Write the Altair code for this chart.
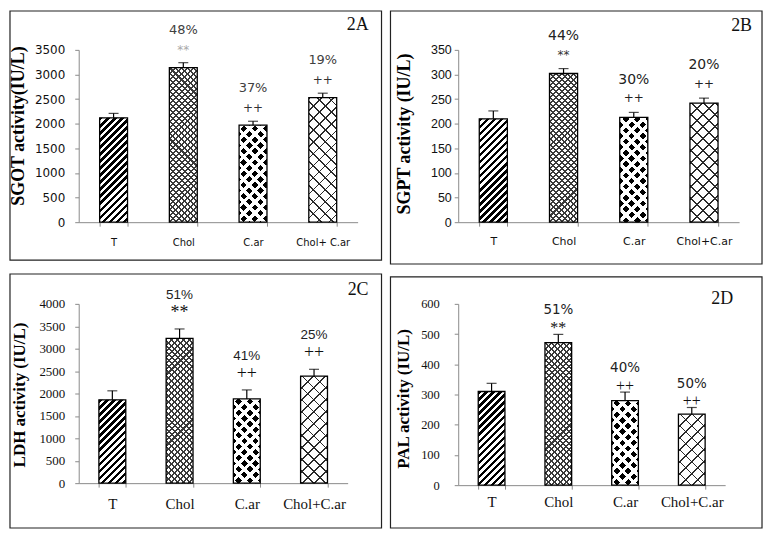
import math
import altair as alt
import pandas as pd

# ---------------- data ----------------
cats_a = ["T", "Chol", "C.ar", "Chol+ C.ar"]
cats_b = ["T", "Chol", "C.ar", "Chol+C.ar"]
cats_c = ["T", "Chol", "C.ar", "Chol+C.ar"]
cats_d = ["T", "Chol", "C.ar", "Chol+C.ar"]

sgot_mean = [2120, 3140, 1970, 2530]
sgot_err = [90, 100, 80, 90]
sgpt_mean = [210, 302, 213, 242]
sgpt_err = [16, 10, 10, 10]
ldh_mean = [1860, 3230, 1880, 2390]
ldh_err = [200, 210, 200, 150]
pal_mean = [310, 472, 280, 235]
pal_err = [27, 27, 28, 22]

pct_a = ["", "48%", "37%", "19%"]
pct_b = ["", "44%", "30%", "20%"]
pct_c = ["", "51%", "41%", "25%"]
pct_d = ["", "51%", "40%", "50%"]
sym_all = ["", "**", "++", "++"]

ticks_a = [0, 500, 1000, 1500, 2000, 2500, 3000, 3500]
ticks_b = [0, 50, 100, 150, 200, 250, 300, 350]
ticks_c = [0, 500, 1000, 1500, 2000, 2500, 3000, 3500, 4000]
ticks_d = [0, 100, 200, 300, 400, 500, 600]

TRANSP = "rgba(0,0,0,0)"


def stripe_gradient(w, h, period, frac, on, off, slope):
    """45-degree stripes as a hard-stop linear gradient (bounding-box units)."""
    r = h / w
    d = (1 + r) / (1 + r * r)
    if slope == "/":
        x1, y1, x2, y2 = 0, 0, d, r * d
    else:
        x1, y1, x2, y2 = 0, 1, d, 1 - r * d
    n = (w + h) / (math.sqrt(2) * period)
    stops = []
    k = 0
    while k / n < 1:
        a = k / n
        b = min((k + frac) / n, 1)
        c = min((k + 1) / n, 1)
        stops += [
            {"offset": round(a, 5), "color": on},
            {"offset": round(b, 5), "color": on},
            {"offset": round(b, 5), "color": off},
            {"offset": round(c, 5), "color": off},
        ]
        k += 1
    return {"gradient": "linear", "x1": x1, "y1": y1, "x2": x2, "y2": y2, "stops": stops}


# pattern recipes per category index: list of (slope, period, frac, on, off)
patterns = [
    [("/", 5.0, 0.5, "black", "white")],
    [("/", 4.2, 0.34, "#3a3a3a", "white"), ("\\", 4.2, 0.34, "#3a3a3a", TRANSP)],
    [("/", 8.0, 0.42, "white", "black"), ("\\", 8.0, 0.42, "white", TRANSP)],
    [("/", 8.5, 0.14, "#2a2a2a", "white"), ("\\", 8.5, 0.14, "#2a2a2a", TRANSP)],
]


def panel(cats, mean, err, pct, ticks, ymax, W, H, st):
    df = pd.DataFrame({"cat": cats, "mean": mean, "err": err, "pct": pct, "sym": sym_all})
    df["top"] = df["mean"] + df["err"]

    xaxis = alt.Axis(
        title=None, labelAngle=0, tickBand="extent", domainColor="#8a8a8a",
        tickColor="#8a8a8a", tickSize=4, labelPadding=st["xpad"], labelBaseline="middle",
        labelFont=st["xfont"], labelFontSize=st["xsize"], labelColor="#111",
        labelOverlap=False, labelLimit=200,
    )
    yaxis = alt.Axis(
        values=ticks, format="d", grid=False, domainColor="#8a8a8a", tickColor="#8a8a8a",
        tickSize=4, labelPadding=st["ypad"], labelFont=st["yfont"],
        labelFontSize=st["ysize"], labelColor="#111", title=st["title"],
        titleFont="Liberation Serif", titleFontWeight="bold", titleFontSize=st["tsize"],
        titleAngle=270, titleAlign="center", titleBaseline="middle",
        titleX=st["tx"], titleY=st["ty"], titleColor="black",
    )
    xs = alt.Scale(domain=cats, paddingInner=0.6, paddingOuter=0.3)
    ys = alt.Scale(domain=[0, ymax], nice=False)

    def X():
        return alt.X("cat:N", sort=cats, scale=xs, axis=xaxis)

    def Y(field="mean"):
        return alt.Y(f"{field}:Q", scale=ys, axis=yaxis)

    base = alt.Chart(df)
    layers = []
    bw = 0.1 * W
    for i, c in enumerate(cats):
        h = mean[i] / ymax * H
        for (slope, per, frac, on, off) in patterns[i]:
            g = stripe_gradient(bw, h, per, frac, on, off, slope)
            layers.append(
                base.transform_filter(alt.datum.cat == c)
                .mark_bar(fill=g, strokeWidth=0)
                .encode(x=X(), y=Y("mean"))
            )
    outline = base.mark_bar(fillOpacity=0, stroke="black", strokeWidth=1.3).encode(x=X(), y=Y("mean"))
    rule = base.mark_rule(color="black", strokeWidth=1.2).encode(x=X(), y=Y("mean"), y2="top:Q")
    cap = base.mark_tick(color="black", thickness=1.2, size=10, orient="horizontal").encode(
        x=X(), y=Y("top"))
    pct_t = base.mark_text(baseline="middle", dy=st["dpct"], font=st["pfont"],
                           fontSize=st["psize"], color=st["pcol"]).encode(
        x=X(), y=Y("top"), text="pct:N")
    star_t = base.transform_filter(alt.datum.sym == "**").mark_text(
        baseline="middle", dy=st["dsym"], font=st["sfont"], fontSize=st["ssize"],
        color=st["starcol"]).encode(x=X(), y=Y("top"), text="sym:N")
    plus_t = base.transform_filter(alt.datum.sym == "++").mark_text(
        baseline="middle", dy=st["dsym"], font=st["sfont"], fontSize=st["ssize"],
        color=st["pluscol"]).encode(x=X(), y=Y("top"), text="sym:N")
    frame = alt.Chart(pd.DataFrame({"k": [0]})).mark_rect(
        fillOpacity=0, stroke="#222", strokeWidth=1.2).encode(
        x=alt.value(st["fx"][0]), x2=alt.value(st["fx"][1]),
        y=alt.value(st["fy"][0]), y2=alt.value(st["fy"][1]))
    lab = alt.Chart(pd.DataFrame({"t": [st["label"]]})).mark_text(
        align="right", baseline="middle", font="Liberation Serif", fontSize=18, color="#111").encode(
        text="t:N", x=alt.value(st["lx"]), y=alt.value(st["ly"]))
    return alt.layer(frame, *layers, outline, rule, cap, pct_t, star_t, plus_t, lab).properties(
        width=W, height=H)


pA = panel(cats_a, sgot_mean, sgot_err, pct_a, ticks_a, 3500, 280, 173, dict(
    xpad=16, xfont="DejaVu Sans", xsize=10, ypad=10, yfont="DejaVu Sans", ysize=12,
    title="SGOT activity(IU/L)", tsize=18, tx=-60, ty=76,
    dpct=-33, psize=13, pfont="DejaVu Sans", pcol="#404040",
    dsym=-13, sfont="DejaVu Sans", ssize=12, starcol="#a8a8a8", pluscol="#333333",
    fx=(-69, 304), fy=(-39, 211), label="2A", lx=291, ly=-25))
pB = panel(cats_b, sgpt_mean, sgpt_err, pct_b, ticks_b, 350, 282, 173, dict(
    xpad=15, xfont="DejaVu Sans", xsize=11, ypad=3, yfont="Liberation Sans", ysize=12.5,
    title="SGPT activity (IU/L)", tsize=18, tx=-54, ty=84,
    dpct=-33, psize=14, pfont="DejaVu Sans", pcol="#222222",
    dsym=-14, sfont="DejaVu Sans", ssize=12, starcol="#333333", pluscol="#222222",
    fx=(-68, 305), fy=(-39, 215), label="2B", lx=295, ly=-24))
pC = panel(cats_c, ldh_mean, ldh_err, pct_c, ticks_c, 4000, 270, 180, dict(
    xpad=16, xfont="Liberation Serif", xsize=15, ypad=10, yfont="Liberation Serif", ysize=13,
    title="LDH activity (IU/L)", tsize=17, tx=-59, ty=91,
    dpct=-34, psize=13.5, pfont="Liberation Sans", pcol="#222222",
    dsym=-16, sfont="Liberation Serif", ssize=18, starcol="#111111", pluscol="#111111",
    fx=(-69, 304), fy=(-30, 225), label="2C", lx=291, ly=-14))
pD = panel(cats_d, pal_mean, pal_err, pct_d, ticks_d, 600, 268, 182, dict(
    xpad=12, xfont="Liberation Serif", xsize=15, ypad=15, yfont="Liberation Serif", ysize=12.5,
    title="PAL activity (IU/L)", tsize=17, tx=-55, ty=95,
    dpct=-24, psize=13.5, pfont="DejaVu Sans", pcol="#222222",
    dsym=-6, sfont="Liberation Serif", ssize=16, starcol="#111111", pluscol="#111111",
    fx=(-68, 305), fy=(-27, 225), label="2D", lx=276, ly=-5))

chart = alt.concat(
    pA, pB, pC, pD, columns=2, spacing={"row": 82, "column": 101},
    bounds="flush", align="each",
).properties(padding=0, background="white").configure_view(stroke="transparent")

chart.save("out.html", embed_options={"renderer": "svg", "actions": False})
